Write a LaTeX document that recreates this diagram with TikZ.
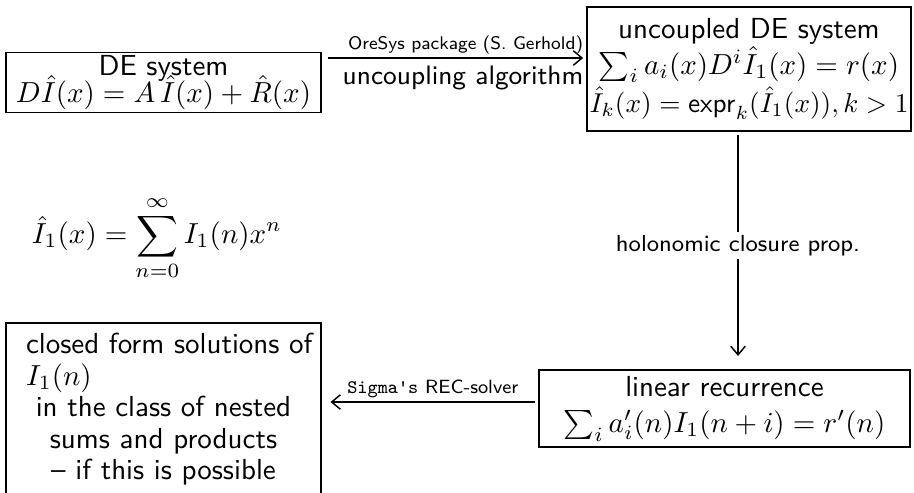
\documentclass[tikz,border=0pt]{standalone}
\usepackage{amsmath}
\usepackage{graphicx}
\usetikzlibrary{arrows.meta}
\renewcommand{\familydefault}{\sfdefault}
\begin{document}
\begin{tikzpicture}[x=0.345pt,y=-0.345pt,
  box/.style={draw,line width=0.65pt,align=center,inner sep=0pt,font=\fontsize{10}{12}\selectfont},
  conn/.style={line width=0.65pt,-{Straight Barb[length=3pt,width=5pt,line width=0.5pt]}},
  lbl/.style={inner sep=1pt}]
\useasboundingbox (0,0) rectangle (914,492);
\node (de) [box,minimum width=108.6pt,minimum height=20.7pt] at (163.5,82.5)
  {DE system\\[-2.5pt] $D\hat I(x) = A\,\hat I(x)+\hat R(x)$};
\node (unc) [box,minimum width=111.8pt,minimum height=42.8pt] at (749,69)
  {uncoupled DE system\\[0.3pt] $\sum_i a_i(x)D^i\hat I_1(x)=r(x)$\\[1.3pt]
   \scalebox{0.94}{$\hat I_k(x)=\mathsf{expr}_k(\hat I_1(x)), k>1$}};
\node (lin) [box,minimum width=128pt,minimum height=26.6pt] at (724.5,408.5)
  {linear recurrence\\[0.5pt] $\sum_i a'_i(n)I_1(n+i)=r'(n)$};
\node (closed) [box,anchor=north,inner ysep=3.5pt,minimum width=108.6pt] at (163.5,322)
  {\parbox[t][62pt][t]{104pt}{\centering\fontsize{10}{10.9}\selectfont
  \hspace*{4pt}closed form solutions of\\
  \hspace*{4pt}\rlap{$I_1(n)$}\hphantom{closed form solutions of}\\
  in the class of nested\\ sums and products\\ -- if this is possible}};
\node (gen) at (157,238) {$\displaystyle \hat I_1(x)=\sum_{n=0}^{\infty} I_1(n)x^n$};
\coordinate (toprow) at (0,58);
\coordinate (botrow) at (0,402);
\coordinate (vcol) at (738,0);
\draw[conn] ([xshift=2pt]de.east |- toprow) -- ([xshift=-1pt]unc.west |- toprow)
  node[pos=0.54,above,lbl,font=\fontsize{6.3}{8}\selectfont] {OreSys package (S. Gerhold)}
  node[pos=0.53,below,lbl,yshift=-1.5pt,font=\fontsize{9.2}{11}\selectfont] {uncoupling algorithm};
\draw[conn] ([yshift=-1pt]unc.south -| vcol) -- ([yshift=4.5pt]lin.north -| vcol)
  node[midway,fill=white,inner sep=1pt,font=\footnotesize] {holonomic closure prop.};
\draw[conn] ([xshift=-1pt]lin.west |- botrow) -- ([xshift=3pt]closed.east |- botrow)
  node[midway,above,lbl,font=\fontsize{6.6}{8}\selectfont] {\texttt{Sigma's} REC-solver};
\end{tikzpicture}
\end{document}
